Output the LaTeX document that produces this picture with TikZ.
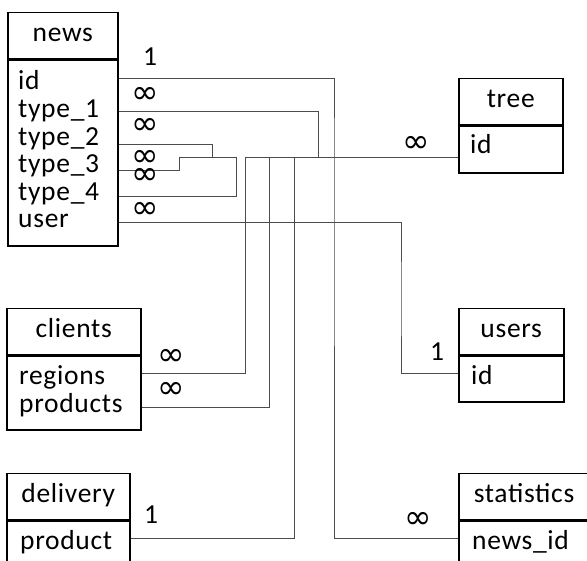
\documentclass[tikz,border=0pt]{standalone}
\usepackage{fontspec}
\setmainfont[LetterSpace=2.5]{Carlito}
\newfontfamily\symfont{DejaVu Sans}
\usepackage{tikz}
\usetikzlibrary{positioning}
\newcommand{\many}{{\symfont\fontsize{33}{33}\selectfont ∞}}
\newcommand{\busy}{157}
\tikzset{
    common/.style={draw, rectangle, line width=1.5pt, inner sep=0pt, anchor=north west},
    head/.style={common, minimum height=46pt, text height=0.7em, text depth=0.25em},
    body/.style={common},
    field/.style={anchor=base west, inner sep=0pt},
    card/.style={inner sep=0pt},
    link/.style={line width=0.8pt, black!70}
}

\begin{document}
\begin{tikzpicture}[x=1pt, y=-1pt]
    \useasboundingbox (0,0) rectangle (587,561);
    \clip (0,0) rectangle (587,561);
    \fontsize{27.5}{33}\selectfont

    % tables
    \node[head, minimum width=110pt] (news) at (7,12) {news};
    \node[body, minimum width=110pt, minimum height=186pt, below=0pt of news] (news-b) {};
    \node[head, minimum width=134pt] (clients) at (6,308) {clients};
    \node[body, minimum width=134pt, minimum height=74pt, below=0pt of clients] (clients-b) {};
    \node[head, minimum width=123pt] (delivery) at (6,473) {delivery};
    \node[body, minimum width=123pt, minimum height=90pt, below=0pt of delivery] (delivery-b) {};
    \node[head, minimum width=104pt] (tree) at (458,78) {tree};
    \node[body, minimum width=104pt, minimum height=47pt, below=0pt of tree] (tree-b) {};
    \node[head, minimum width=105pt] (users) at (458,308) {users};
    \node[body, minimum width=105pt, minimum height=46pt, below=0pt of users] (users-b) {};
    \node[head, inner xsep=15pt, text width=110pt, align=left] (stats) at (458,473) {statistics};
    \node[body, minimum width=140pt, minimum height=90pt, below=0pt of stats] (stats-b) {};

    % fields
    \path (18,90) node[field] (news-id) {id}
        ++(0,27.6) node[field] (news-t1) {type\_1}
        ++(0,27.6) node[field] (news-t2) {type\_2}
        ++(0,27.6) node[field] (news-t3) {type\_3}
        ++(0,27.6) node[field] (news-t4) {type\_4}
        ++(0,27.6) node[field] (news-user) {user};
    \path (19,385) node[field] (clients-reg) {regions}
        ++(0,28) node[field] (clients-prod) {products};
    \node[field] (delivery-prod) at (20,549) {product};
    \node[field] (tree-id) at (470,154) {id};
    \node[field] (users-id) at (471,385) {id};
    \node[field] (stats-nid) at (472,549) {news\_id};

    % ports and bus
    \coordinate (news-id-p) at (news-b.east |- 0,78);
    \coordinate (news-t1-p) at (news-b.east |- 0,111);
    \coordinate (news-t2-p) at (news-b.east |- 0,144);
    \coordinate (news-t3-p) at (news-b.east |- 0,170);
    \coordinate (news-t4-p) at (news-b.east |- 0,196);
    \coordinate (news-user-p) at (news-b.east |- 0,222);
    \coordinate (clients-reg-p) at (clients-b.east |- 0,373);
    \coordinate (clients-prod-p) at (clients-b.east |- 0,407);
    \coordinate (delivery-p) at (delivery-b.east |- 0,538);
    \coordinate (tree-p) at (tree-b.west |- 0,\busy);
    \coordinate (users-p) at (users-b.west |- 0,373);
    \coordinate (stats-p) at (stats-b.west |- 0,538);
    \coordinate (bus-t3) at (179,\busy);
    \coordinate (bus-t2) at (212,\busy);
    \coordinate (bus-t4) at (236,\busy);
    \coordinate (bus-reg) at (245,\busy);
    \coordinate (bus-prod) at (269,\busy);
    \coordinate (bus-del) at (294,\busy);
    \coordinate (bus-t1) at (318,\busy);
    \coordinate (bus-id) at (334,\busy);
    \coordinate (user-bend) at (401,300);

    % links
    \draw[link] (news-id-p) -| (bus-id) |- (stats-p);
    \draw[link] (news-t1-p) -| (bus-t1);
    \draw[link] (news-t2-p) -| (bus-t2);
    \draw[link] (news-t3-p) -| (bus-t3) -- (bus-t4);
    \draw[link] (news-t4-p) -| (bus-t4);
    \draw[link] (news-user-p) -| (user-bend) |- (users-p);
    \draw[link] (bus-reg) -- (tree-p);
    \draw[link] (clients-reg-p) -| (bus-reg);
    \draw[link] (clients-prod-p) -| (bus-prod);
    \draw[link] (delivery-p) -| (bus-del);

    % multiplicities
    \node[card] (news-one) at (150,57) {1};
    \node[card] (news-m1) at (145,95) {\many};
    \node[card] (news-m2) at (145,126) {\many};
    \node[card] (news-m3) at (145,158) {\many};
    \node[card] (news-m4) at (145,176) {\many};
    \node[card] (news-m5) at (145,210) {\many};
    \node[card] (tree-m) at (416,144) {\many};
    \node[card] (clients-m1) at (171,357) {\many};
    \node[card] (clients-m2) at (171,390) {\many};
    \node[card] (users-one) at (437,352) {1};
    \node[card] (delivery-one) at (151,515) {1};
    \node[card] (stats-m) at (418,520) {\many};
\end{tikzpicture}
\end{document}
